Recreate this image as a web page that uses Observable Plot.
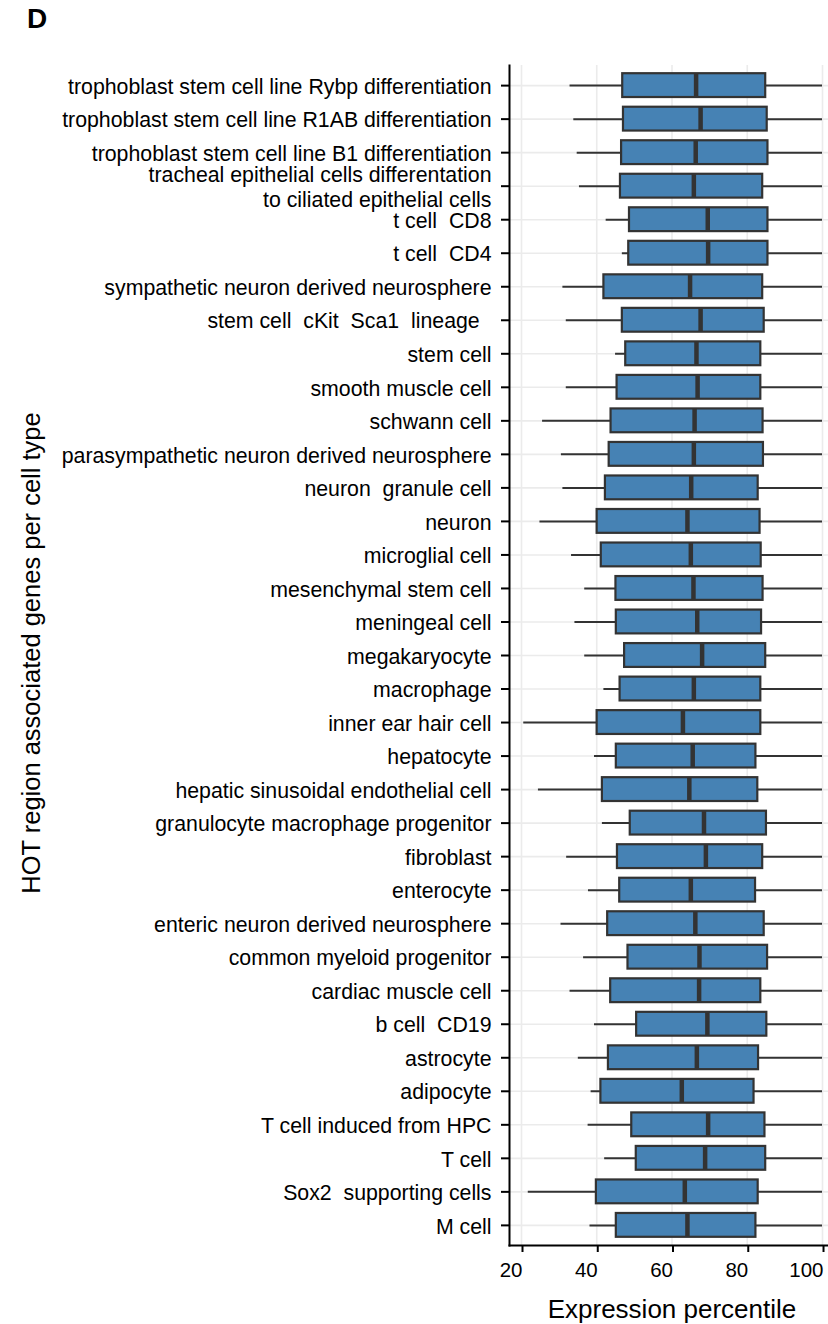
<!DOCTYPE html>
<html>
<head>
<meta charset="utf-8">
<script src="https://cdn.jsdelivr.net/npm/d3@7"></script>
<script src="https://cdn.jsdelivr.net/npm/@observablehq/plot@0.6"></script>
<style>
  html, body { margin: 0; padding: 0; background: #fff; }
  svg text { white-space: pre; }
</style>
</head>
<body>
<div id="chart"></div>
<script>
const categories = [
  "trophoblast stem cell line Rybp differentiation",
  "trophoblast stem cell line R1AB differentiation",
  "trophoblast stem cell line B1 differentiation",
  "tracheal epithelial cells differentation\nto ciliated epithelial cells",
  "t cell  CD8",
  "t cell  CD4",
  "sympathetic neuron derived neurosphere",
  "stem cell  cKit  Sca1  lineage  ",
  "stem cell",
  "smooth muscle cell",
  "schwann cell",
  "parasympathetic neuron derived neurosphere",
  "neuron  granule cell",
  "neuron",
  "microglial cell",
  "mesenchymal stem cell",
  "meningeal cell",
  "megakaryocyte",
  "macrophage",
  "inner ear hair cell",
  "hepatocyte",
  "hepatic sinusoidal endothelial cell",
  "granulocyte macrophage progenitor",
  "fibroblast",
  "enterocyte",
  "enteric neuron derived neurosphere",
  "common myeloid progenitor",
  "cardiac muscle cell",
  "b cell  CD19",
  "astrocyte",
  "adipocyte",
  "T cell induced from HPC",
  "T cell",
  "Sox2  supporting cells",
  "M cell"
];
const whiskerLow = [32.9, 33.9, 34.8, 35.4, 42.5, 46.8, 31.0, 31.9, 45.0, 31.9, 25.6, 30.6, 31.0, 24.9, 33.3, 36.8, 34.2, 36.8, 41.9, 20.6, 39.4, 24.5, 41.5, 32.0, 37.8, 30.5, 36.5, 32.9, 39.4, 35.1, 38.5, 37.7, 42.1, 21.8, 38.2];
const q1 = [46.9, 47.1, 46.6, 46.3, 48.7, 48.5, 41.9, 46.8, 47.7, 45.4, 43.8, 43.3, 42.3, 40.1, 41.2, 45.1, 45.2, 47.4, 46.2, 40.1, 45.2, 41.5, 48.9, 45.5, 46.1, 42.9, 48.3, 43.7, 50.6, 43.1, 41.1, 49.3, 50.5, 39.9, 45.2];
const medians = [66.4, 67.6, 66.3, 65.8, 69.5, 69.6, 64.8, 67.6, 66.5, 66.8, 66.0, 65.8, 65.1, 64.1, 65.0, 65.7, 66.7, 68.0, 65.8, 62.9, 65.5, 64.6, 68.5, 69.0, 65.0, 66.2, 67.3, 67.2, 69.4, 66.6, 62.6, 69.6, 68.8, 63.4, 64.1];
const q3 = [84.9, 85.3, 85.5, 84.1, 85.5, 85.5, 84.1, 84.5, 83.6, 83.6, 84.2, 84.3, 82.9, 83.4, 83.7, 84.2, 83.8, 84.9, 83.6, 83.6, 82.3, 82.8, 85.1, 84.1, 82.2, 84.5, 85.4, 83.6, 85.2, 83.0, 81.8, 84.7, 84.9, 82.9, 82.3];
const whiskerHigh = [100, 100, 100, 100, 100, 100, 100, 100, 100, 100, 100, 100, 100, 100, 100, 100, 100, 100, 100, 100, 100, 100, 100, 100, 100, 100, 100, 100, 100, 100, 100, 100, 100, 100, 100];
const xTicks = [20, 40, 60, 80, 100];

const rows = categories.map((c, i) => ({
  cat: c, lo: whiskerLow[i], q1: q1[i], med: medians[i], q3: q3[i], hi: whiskerHigh[i]
}));

const font = "'Liberation Sans', Arial, Helvetica, sans-serif";
const dark = "#333333";

const chart = Plot.plot({
  width: 828,
  height: 1324,
  marginLeft: 509,
  marginRight: 0,
  marginTop: 65,
  marginBottom: 79,
  style: { fontFamily: font, background: "#fff", color: "#000", overflow: "visible" },
  x: { domain: [16.81, 101.59] },
  y: { type: "band", domain: categories, padding: 0.2, round: false },
  marks: [
    Plot.gridX(xTicks, { stroke: "#ebebeb", strokeOpacity: 1, strokeWidth: 1.6 }),
    Plot.gridY(categories, { stroke: "#ebebeb", strokeOpacity: 1, strokeWidth: 1.6 }),
    Plot.ruleY(rows, { y: "cat", x1: "lo", x2: "hi", stroke: dark, strokeWidth: 2 }),
    Plot.barX(rows, { y: "cat", x1: "q1", x2: "q3", fill: "#4682B4", stroke: dark, strokeWidth: 2.2, insetTop: 1.5, insetBottom: 1.5 }),
    Plot.tickX(rows, { y: "cat", x: "med", stroke: dark, strokeWidth: 4.5, insetTop: 1.5, insetBottom: 1.5 }),
    Plot.axisY({ tickSize: 8, tickPadding: 10, fontSize: 21.3, lineHeight: 1.2, stroke: "#000", strokeWidth: 2, fill: "#000", label: null }),
    Plot.axisX({ ticks: xTicks, tickSize: 7, tickPadding: 10, fontSize: 20.5, textAnchor: "end", dx: 1, stroke: "#000", strokeWidth: 2, fill: "#000", label: null }),
    Plot.frame({ anchor: "left", stroke: "#000", strokeWidth: 2 }),
    Plot.frame({ anchor: "bottom", stroke: "#000", strokeWidth: 2 })
  ]
});

const svg = d3.select(chart);
svg.append("text")
  .attr("x", 27).attr("y", 28)
  .attr("text-anchor", "start")
  .attr("font-family", font).attr("font-size", 28).attr("font-weight", "bold")
  .attr("fill", "#000")
  .text("D");
svg.append("text")
  .attr("x", 672).attr("y", 1318)
  .attr("text-anchor", "middle")
  .attr("font-family", font).attr("font-size", 26)
  .attr("fill", "#000")
  .text("Expression percentile");
svg.append("text")
  .attr("transform", "translate(40,653) rotate(-90)")
  .attr("text-anchor", "middle")
  .attr("font-family", font).attr("font-size", 25.5)
  .attr("fill", "#000")
  .text("HOT region associated genes per cell type");

document.getElementById("chart").appendChild(chart);
</script>
</body>
</html>
